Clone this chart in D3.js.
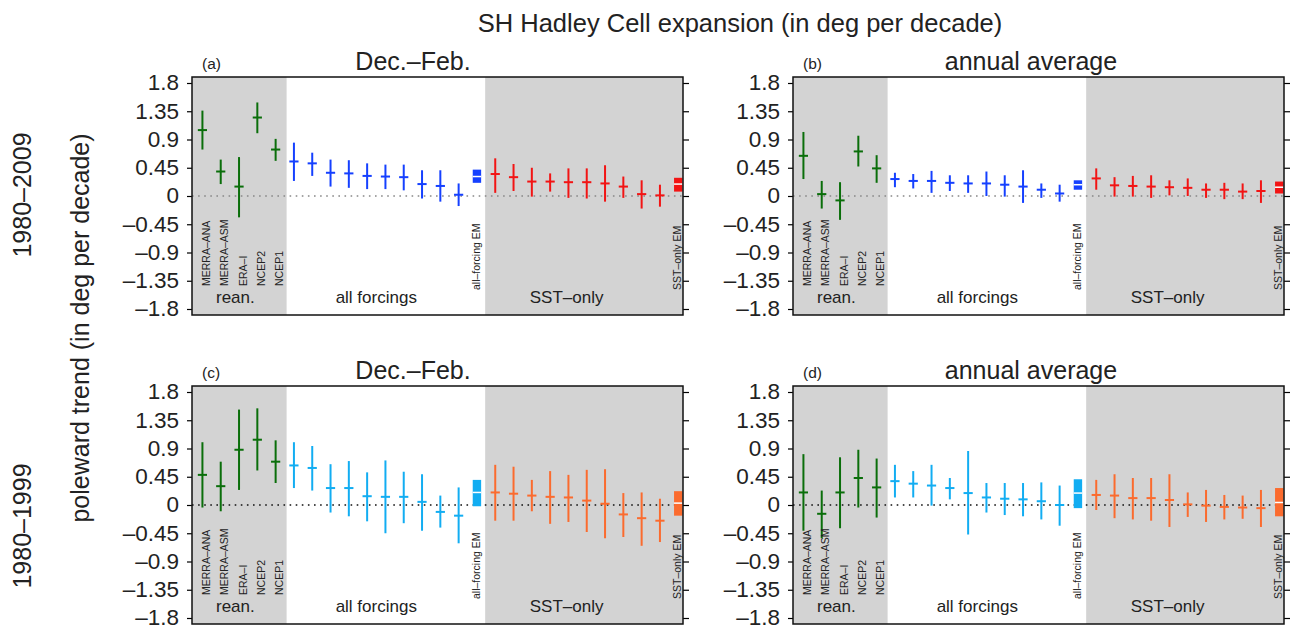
<!DOCTYPE html>
<html>
<head>
<meta charset="utf-8">
<script src="https://cdn.jsdelivr.net/npm/d3@7"></script>
<style>
  body { margin: 0; background: #fff; }
  text { font-family: "Liberation Sans", Arial, Helvetica, sans-serif; fill: #222; }
</style>
</head>
<body>
<svg width="1296" height="628"></svg>
<script>
var svg = d3.select('svg');

// --- data: [mean, low, high] in deg per decade ---
var reanNames = ["MERRA\u2013ANA", "MERRA\u2013ASM", "ERA\u2013I", "NCEP2", "NCEP1"];
var yTicks = [1.8, 1.35, 0.9, 0.45, 0, -0.45, -0.9, -1.35, -1.8];
var yTickLabels = ["1.8", "1.35", "0.9", "0.45", "0", "\u20130.45", "\u20130.9", "\u20131.35", "\u20131.8"];
var panelLetters = ["(a)", "(b)", "(c)", "(d)"];
var seasonTitles = ["Dec.\u2013Feb.", "annual average"];
var periodLabels = ["1980\u20132009", "1980\u20131999"];

var reanA = [[1.05,0.74,1.36],[0.39,0.19,0.58],[0.15,-0.34,0.62],[1.25,1.0,1.49],[0.74,0.56,0.91]];
var allA = [[0.55,0.24,0.85],[0.52,0.32,0.69],[0.37,0.15,0.58],[0.36,0.13,0.57],[0.32,0.11,0.52],
            [0.31,0.11,0.50],[0.30,0.09,0.50],[0.19,-0.04,0.41],[0.16,-0.09,0.41],[0.02,-0.16,0.20]];
var allEmA = [0.31,0.21,0.42];
var sstA = [[0.35,0.05,0.60],[0.30,0.08,0.51],[0.23,-0.01,0.45],[0.23,0.07,0.36],[0.22,-0.03,0.44],
            [0.22,-0.04,0.44],[0.20,-0.09,0.49],[0.15,-0.03,0.31],[0.03,-0.20,0.25],[0.01,-0.17,0.18]];
var sstEmA = [0.19,0.07,0.29];

var reanB = [[0.64,0.27,1.02],[0.03,-0.20,0.24],[-0.07,-0.38,0.22],[0.71,0.47,0.96],[0.44,0.21,0.65]];
var allB = [[0.27,0.14,0.37],[0.24,0.12,0.35],[0.24,0.05,0.40],[0.21,0.08,0.33],[0.20,0.05,0.33],
            [0.20,0.0,0.39],[0.18,-0.01,0.33],[0.15,-0.11,0.41],[0.10,-0.03,0.20],[0.04,-0.09,0.18]];
var allEmB = [0.18,0.10,0.25];
var sstB = [[0.28,0.10,0.44],[0.17,-0.01,0.30],[0.16,-0.01,0.32],[0.15,-0.03,0.33],[0.14,0.01,0.25],
            [0.13,0.0,0.28],[0.10,-0.03,0.20],[0.10,-0.05,0.21],[0.07,-0.05,0.20],[0.08,-0.11,0.25]];
var sstEmB = [0.14,0.04,0.23];

var reanC = [[0.48,-0.04,1.0],[0.30,-0.10,0.69],[0.88,0.24,1.52],[1.04,0.55,1.54],[0.69,0.35,1.03]];
var allC = [[0.63,0.27,1.0],[0.59,0.23,0.94],[0.27,-0.12,0.65],[0.27,-0.18,0.70],[0.14,-0.26,0.52],
            [0.13,-0.45,0.71],[0.13,-0.29,0.53],[0.05,-0.41,0.49],[-0.11,-0.36,0.15],[-0.17,-0.61,0.28]];
var allEmC = [0.20,-0.02,0.40];
var sstC = [[0.20,-0.25,0.64],[0.18,-0.25,0.61],[0.15,-0.10,0.40],[0.13,-0.30,0.54],[0.12,-0.27,0.48],
            [0.07,-0.43,0.56],[0.02,-0.53,0.57],[-0.15,-0.51,0.19],[-0.21,-0.65,0.20],[-0.25,-0.59,0.10]];
var sstEmC = [0.03,-0.17,0.22];

var reanD = [[0.20,-0.41,0.81],[-0.14,-0.53,0.23],[0.20,-0.37,0.76],[0.43,-0.04,0.88],[0.28,-0.20,0.74]];
var allD = [[0.38,0.12,0.64],[0.34,0.12,0.54],[0.31,-0.01,0.64],[0.27,0.09,0.43],[0.19,-0.47,0.86],
            [0.12,-0.12,0.35],[0.10,-0.16,0.35],[0.09,-0.18,0.35],[0.06,-0.23,0.36],[0.0,-0.33,0.31]];
var allEmD = [0.19,-0.05,0.41];
var sstD = [[0.16,-0.08,0.40],[0.15,-0.21,0.49],[0.11,-0.23,0.43],[0.11,-0.25,0.43],[0.08,-0.35,0.49],
            [0.01,-0.19,0.20],[-0.01,-0.27,0.24],[-0.03,-0.23,0.16],[-0.04,-0.22,0.15],[-0.05,-0.35,0.24]];
var sstEmD = [0.04,-0.18,0.27];

var panels = [
  {row: 0, col: 0, rean: reanA, all: allA, allEm: allEmA, sst: sstA, sstEm: sstEmA},
  {row: 0, col: 1, rean: reanB, all: allB, allEm: allEmB, sst: sstB, sstEm: sstEmB},
  {row: 1, col: 0, rean: reanC, all: allC, allEm: allEmC, sst: sstC, sstEm: sstEmC},
  {row: 1, col: 1, rean: reanD, all: allD, allEm: allEmD, sst: sstD, sstEm: sstEmD}
];

// --- layout ---
var lefts = [192, 793], tops = [77, 386];
var pw = 491, ph = 238;
var titleX = [413, 1031];
var green = "#0a6e0a";
var allColors = ["#1540ff", "#12adf2"];
var sstColors = ["#f21414", "#fb6b2e"];
var zeroColors = ["#888", "#111"];

svg.append("text")
  .attr("x", 740).attr("y", 32)
  .attr("text-anchor", "middle")
  .style("font-size", "25.5px")
  .text("SH Hadley Cell expansion (in deg per decade)");

svg.append("text")
  .attr("transform", "translate(89,328) rotate(-90)")
  .attr("text-anchor", "middle")
  .style("font-size", "25px")
  .text("poleward trend (in deg per decade)");

svg.append("text")
  .attr("transform", "translate(31,195) rotate(-90)")
  .attr("text-anchor", "middle")
  .style("font-size", "25px")
  .text(periodLabels[0]);
svg.append("text")
  .attr("transform", "translate(31,526) rotate(-90)")
  .attr("text-anchor", "middle")
  .style("font-size", "25px")
  .text(periodLabels[1]);

panels.forEach(function (p, k) {
  var pl = lefts[p.col], pt = tops[p.row];
  var x = d3.scaleLinear().domain([-0.57, 26.26]).range([pl, pl + pw]);
  var y = d3.scaleLinear().domain([-1.8, 1.8]).range([pt + 232, pt + 6]);
  var g = svg.append("g");

  // shaded regions
  g.append("rect").attr("x", x(-0.57)).attr("y", pt)
    .attr("width", x(4.6) - x(-0.57)).attr("height", ph).attr("fill", "#d3d3d3");
  g.append("rect").attr("x", x(15.45)).attr("y", pt)
    .attr("width", x(26.26) - x(15.45)).attr("height", ph).attr("fill", "#d3d3d3");

  // zero line
  g.append("line")
    .attr("x1", pl).attr("x2", pl + pw)
    .attr("y1", y(0)).attr("y2", y(0))
    .attr("stroke", zeroColors[p.row]).attr("stroke-width", 1.6)
    .attr("stroke-dasharray", "1.6,4.5");

  // axes
  var yl = g.append("g").attr("transform", "translate(" + pl + ",0)")
    .call(d3.axisLeft(y).tickValues(yTicks).tickSize(5).tickPadding(8)
      .tickFormat(function (d, i) { return yTickLabels[i]; }));
  yl.select(".domain").remove();
  yl.selectAll("text").style("font-size", "22.5px").attr("fill", "#222").attr("dy", "0.3em")
    .attr("font-family", "Liberation Sans, Arial, sans-serif");
  yl.selectAll("line").attr("stroke-width", 1.2);
  var yr = g.append("g").attr("transform", "translate(" + (pl + pw) + ",0)")
    .call(d3.axisRight(y).tickValues(yTicks).tickSize(6).tickFormat(""));
  yr.select(".domain").remove();
  yr.selectAll("line").attr("stroke-width", 1.2);

  // error bars
  var series = [];
  p.rean.forEach(function (d, i) { series.push({i: i, v: d, c: green}); });
  p.all.forEach(function (d, i) { series.push({i: i + 5, v: d, c: allColors[p.row]}); });
  p.sst.forEach(function (d, i) { series.push({i: i + 16, v: d, c: sstColors[p.row]}); });

  g.selectAll(".bar").data(series).enter().append("line")
    .attr("x1", function (d) { return x(d.i); })
    .attr("x2", function (d) { return x(d.i); })
    .attr("y1", function (d) { return y(d.v[1]); })
    .attr("y2", function (d) { return y(d.v[2]); })
    .attr("stroke", function (d) { return d.c; })
    .attr("stroke-width", 2);
  g.selectAll(".mean").data(series).enter().append("line")
    .attr("x1", function (d) { return x(d.i) - 4.6; })
    .attr("x2", function (d) { return x(d.i) + 4.6; })
    .attr("y1", function (d) { return y(d.v[0]); })
    .attr("y2", function (d) { return y(d.v[0]); })
    .attr("stroke", function (d) { return d.c; })
    .attr("stroke-width", 2);

  // ensemble means
  var ems = [{i: 15, v: p.allEm, c: allColors[p.row]}, {i: 26, v: p.sstEm, c: sstColors[p.row]}];
  ems.forEach(function (e) {
    g.append("rect")
      .attr("x", x(e.i) - 4.2).attr("width", 8.4)
      .attr("y", y(e.v[2])).attr("height", y(e.v[1]) - y(e.v[2]))
      .attr("fill", e.c);
    g.append("line")
      .attr("x1", x(e.i) - 4.2).attr("x2", x(e.i) + 4.2)
      .attr("y1", y(e.v[0])).attr("y2", y(e.v[0]))
      .attr("stroke", "#fff").attr("stroke-width", 1.5);
  });

  // frame
  g.append("rect").attr("x", pl).attr("y", pt).attr("width", pw).attr("height", ph)
    .attr("fill", "none").attr("stroke", "#111").attr("stroke-width", 1.5);

  // category labels
  reanNames.forEach(function (n, i) {
    g.append("text")
      .attr("transform", "translate(" + (x(i) + 7.5) + "," + (pt + 209) + ") rotate(-90)")
      .style("font-size", "10.5px").text(n);
  });
  g.append("text")
    .attr("transform", "translate(" + (x(15) + 3) + "," + (pt + 213) + ") rotate(-90)")
    .style("font-size", "10.5px").text("all\u2013forcing EM");
  g.append("text")
    .attr("transform", "translate(" + (x(26) + 3) + "," + (pt + 213) + ") rotate(-90)")
    .style("font-size", "10.5px").text("SST\u2013only EM");

  // group labels
  [["rean.", 1.8], ["all forcings", 9.5], ["SST\u2013only", 19.9]].forEach(function (d) {
    g.append("text").attr("x", x(d[1])).attr("y", pt + 226)
      .attr("text-anchor", "middle").style("font-size", "17px").text(d[0]);
  });

  // panel letter and title
  g.append("text").attr("x", pl + 10).attr("y", pt - 8)
    .style("font-size", "15.5px").text(panelLetters[k]);
  g.append("text").attr("x", titleX[p.col]).attr("y", pt - 7)
    .attr("text-anchor", "middle").style("font-size", "25px").text(seasonTitles[p.col]);
});
</script>
</body>
</html>
